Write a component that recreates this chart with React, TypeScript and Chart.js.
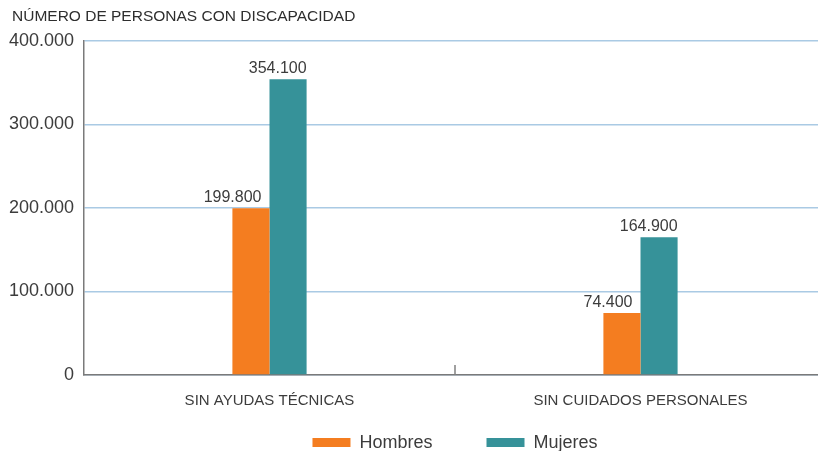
import React, { useEffect, useRef } from "react";
import { Chart, registerables } from "chart.js";

Chart.register(...registerables);

const title = "NÚMERO DE PERSONAS CON DISCAPACIDAD";
const categories = ["SIN AYUDAS TÉCNICAS", "SIN CUIDADOS PERSONALES"];
const seriesNames = ["Hombres", "Mujeres"];
const hombres = [199800, 74400];
const mujeres = [354100, 164900];
const yTicks = [0, 100000, 200000, 300000, 400000];
const colors = ["rgb(244,125,32)", "rgb(54,146,153)"];

const FONT = "'Liberation Sans', Arial, sans-serif";
const TEXT = "#3c3c3c";

const fmt = (v: number) =>
  String(Math.round(v)).replace(/\B(?=(\d{3})+(?!\d))/g, ".");

const decorPlugin = {
  id: "decor",
  afterDraw(chart: any) {
    const ctx = chart.ctx;
    const area = chart.chartArea;
    const xs = chart.scales.x;
    ctx.save();
    // title
    ctx.fillStyle = "#2e2e2e";
    ctx.font = `15.5px ${FONT}`;
    ctx.textAlign = "left";
    ctx.textBaseline = "middle";
    ctx.fillText(title, 12, 17);

    // category separator tick
    const mid = (xs.getPixelForTick(0) + xs.getPixelForTick(1)) / 2;
    ctx.strokeStyle = "#808080";
    ctx.lineWidth = 1.5;
    ctx.beginPath();
    ctx.moveTo(mid, area.bottom - 10);
    ctx.lineTo(mid, area.bottom);
    ctx.stroke();

    // data labels
    const offsets = [8, 0];
    ctx.font = `16px ${FONT}`;
    ctx.fillStyle = TEXT;
    ctx.textAlign = "right";
    ctx.textBaseline = "alphabetic";
    chart.data.datasets.forEach((ds: any, di: number) => {
      const meta = chart.getDatasetMeta(di);
      meta.data.forEach((bar: any, i: number) => {
        const right = bar.x + bar.width / 2 - offsets[di];
        ctx.fillText(fmt(ds.data[i]), right, bar.y - 6);
      });
    });

    // legend
    ctx.font = `18px ${FONT}`;
    const boxW = 38;
    const boxH = 9;
    const textGap = 9;
    const itemGap = 54;
    const widths = chart.data.datasets.map(
      (ds: any) => boxW + textGap + ctx.measureText(ds.label).width
    );
    const total = widths.reduce((a: number, b: number) => a + b, 0) + itemGap * (widths.length - 1);
    let x = (area.left + area.right) / 2 - total / 2;
    const cy = 442.5;
    chart.data.datasets.forEach((ds: any, di: number) => {
      ctx.fillStyle = ds.backgroundColor;
      ctx.fillRect(x, cy - boxH / 2, boxW, boxH);
      ctx.fillStyle = TEXT;
      ctx.textAlign = "left";
      ctx.textBaseline = "middle";
      ctx.fillText(ds.label, x + boxW + textGap, cy + 1);
      x += widths[di] + itemGap;
    });
    ctx.restore();
  },
};

export default function App() {
  const ref = useRef<HTMLCanvasElement | null>(null);
  useEffect(() => {
    document.body.style.overflow = "hidden";
    const chart = new Chart(ref.current as HTMLCanvasElement, {
      type: "bar",
      data: {
        labels: categories,
        datasets: [
          { label: seriesNames[0], data: hombres, backgroundColor: colors[0] },
          { label: seriesNames[1], data: mujeres, backgroundColor: colors[1] },
        ],
      },
      plugins: [decorPlugin],
      options: {
        animation: false,
        responsive: false,
        devicePixelRatio: 1,
        layout: { padding: { top: 41, right: 4, left: 0, bottom: 0 } },
        datasets: {
          bar: { categoryPercentage: 0.2, barPercentage: 1, borderWidth: 0 },
        },
        plugins: {
          legend: { display: false },
          title: { display: false },
          tooltip: { enabled: false },
        },
        scales: {
          x: {
            offset: true,
            grid: { display: false, drawOnChartArea: false, drawTicks: false },
            border: { display: true, color: "#7a7a7a", width: 1.5 },
            ticks: {
              color: TEXT,
              font: { family: FONT, size: 15 },
              padding: 17,
              maxRotation: 0,
            },
            afterFit: (s: any) => {
              s.height = 76;
            },
          },
          y: {
            min: 0,
            max: 400000,
            afterBuildTicks: (s: any) => {
              s.ticks = yTicks.map((v) => ({ value: v }));
            },
            grid: { color: "rgb(170,202,228)", lineWidth: 1.5, drawTicks: false },
            border: { display: true, color: "#7a7a7a", width: 1.5 },
            ticks: {
              color: TEXT,
              font: { family: FONT, size: 18 },
              padding: 10,
              callback: (v: any) => fmt(Number(v)),
            },
            afterFit: (s: any) => {
              s.width = 84;
            },
          },
        },
      },
    });
    return () => chart.destroy();
  }, []);
  return (
    <div style={{ position: "absolute", left: 0, top: 0, width: 818, height: 451, overflow: "hidden" }}>
      <canvas ref={ref} width={830} height={451} style={{ display: "block" }} />
    </div>
  );
}
